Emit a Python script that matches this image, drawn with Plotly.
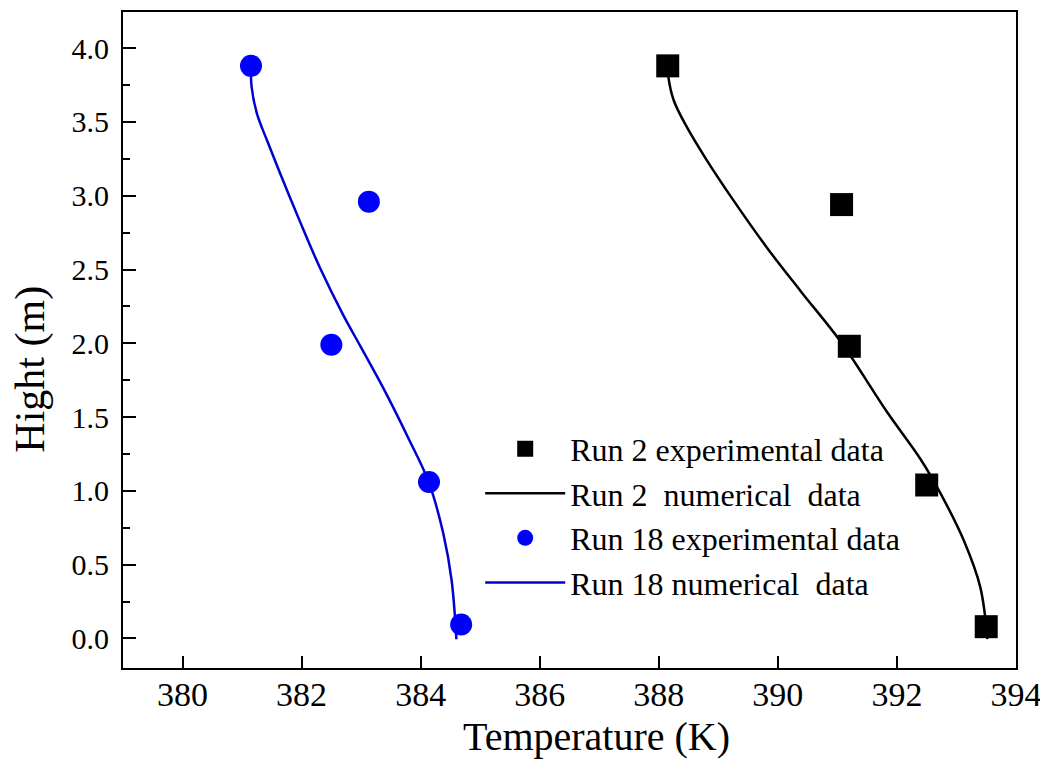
import plotly.graph_objects as go

# Experimental data
run2_exp_T = [388.15, 391.07, 391.20, 392.50, 393.50]
run2_exp_H = [3.88, 2.94, 1.98, 1.04, 0.08]
run18_exp_T = [381.15, 383.13, 382.50, 384.14, 384.68]
run18_exp_H = [3.88, 2.96, 1.99, 1.06, 0.095]

run2_num_T = [388.15, 388.16, 388.25, 388.47, 388.81, 389.26, 389.82, 390.39,
              391.06, 391.84, 392.40, 392.73, 393.12, 393.40, 393.52]
run2_num_H = [3.88, 3.807, 3.647, 3.466, 3.238, 2.965, 2.646, 2.350,
              2.009, 1.531, 1.213, 0.985, 0.667, 0.348, -0.005]
run18_num_T = [381.15, 381.16, 381.25, 381.42, 381.69, 381.97, 382.31, 382.70,
               382.98, 383.41, 383.80, 384.13, 384.38, 384.52, 384.60]
run18_num_H = [3.884, 3.739, 3.556, 3.374, 3.101, 2.828, 2.510, 2.191,
               1.986, 1.668, 1.352, 1.065, 0.712, 0.394, -0.005]

x_ticks = [380, 382, 384, 386, 388, 390, 392, 394]
y_ticks = [0.0, 0.5, 1.0, 1.5, 2.0, 2.5, 3.0, 3.5, 4.0]
y_minor = [0.25, 0.75, 1.25, 1.75, 2.25, 2.75, 3.25, 3.75]

FONT = "Liberation Serif, Times New Roman, serif"

fig = go.Figure()
fig.add_trace(go.Scatter(
    x=run2_num_T, y=run2_num_H, mode="lines", name="Run 2  numerical  data",
    line=dict(color="black", width=2.5, shape="spline"), showlegend=False))
fig.add_trace(go.Scatter(
    x=run18_num_T, y=run18_num_H, mode="lines", name="Run 18 numerical  data",
    line=dict(color="#0000d0", width=2.5, shape="spline"), showlegend=False))

# legend-order traces
fig.add_trace(go.Scatter(
    x=run2_exp_T, y=run2_exp_H, mode="markers", name="Run 2 experimental data",
    marker=dict(symbol="square", size=23, color="black")))
fig.add_trace(go.Scatter(
    x=[None], y=[None], mode="lines", name="Run 2  numerical  data",
    line=dict(color="black", width=2.5)))
fig.add_trace(go.Scatter(
    x=run18_exp_T, y=run18_exp_H, mode="markers", name="Run 18 experimental data",
    marker=dict(symbol="circle", size=22, color="blue")))
fig.add_trace(go.Scatter(
    x=[None], y=[None], mode="lines", name="Run 18 numerical  data",
    line=dict(color="#0000d0", width=2.5)))

# page body has an 8px margin, so the figure is shifted and sized to compensate
fig.update_layout(
    width=1040, height=755,
    margin=dict(l=115, r=32, t=2, b=95),
    paper_bgcolor="white", plot_bgcolor="white",
    font=dict(family=FONT, color="black"),
    showlegend=True,
    legend=dict(
        x=0.400, y=0.376, xanchor="left", yanchor="top",
        bgcolor="rgba(0,0,0,0)", borderwidth=0,
        font=dict(size=32, family=FONT, color="black"),
        tracegroupgap=0, itemwidth=80,
    ),
    xaxis=dict(
        range=[379, 394], tickvals=x_ticks, ticktext=[str(v) for v in x_ticks],
        ticks="inside", ticklen=12, tickwidth=2, tickcolor="black",
        showline=True, linecolor="black", linewidth=2, mirror=True,
        showgrid=False, zeroline=False,
        tickfont=dict(size=34, family=FONT),
        ticklabelstandoff=-5,
    ),
    yaxis=dict(
        range=[-0.2, 4.245], tickvals=y_ticks, ticktext=[f"{v:.1f}" for v in y_ticks],
        ticks="inside", ticklen=13, tickwidth=2, tickcolor="black",
        minor=dict(tickvals=y_minor,
                   ticks="inside", ticklen=7, tickwidth=2, tickcolor="black"),
        showline=True, linecolor="black", linewidth=2, mirror=True,
        showgrid=False, zeroline=False,
        tickfont=dict(size=30, family=FONT),
        ticklabelstandoff=6,
    ),
    annotations=[
        dict(text="Temperature (K)", xref="paper", yref="paper",
             x=0.5297, y=-0.104, xanchor="center", yanchor="middle",
             showarrow=False, font=dict(size=40, family=FONT, color="black")),
        dict(text="Hight (m)", xref="paper", yref="paper",
             x=-0.104, y=0.455, xanchor="center", yanchor="middle", textangle=-90,
             showarrow=False, font=dict(size=42, family=FONT, color="black")),
    ],
)

fig.write_html("out.html")
